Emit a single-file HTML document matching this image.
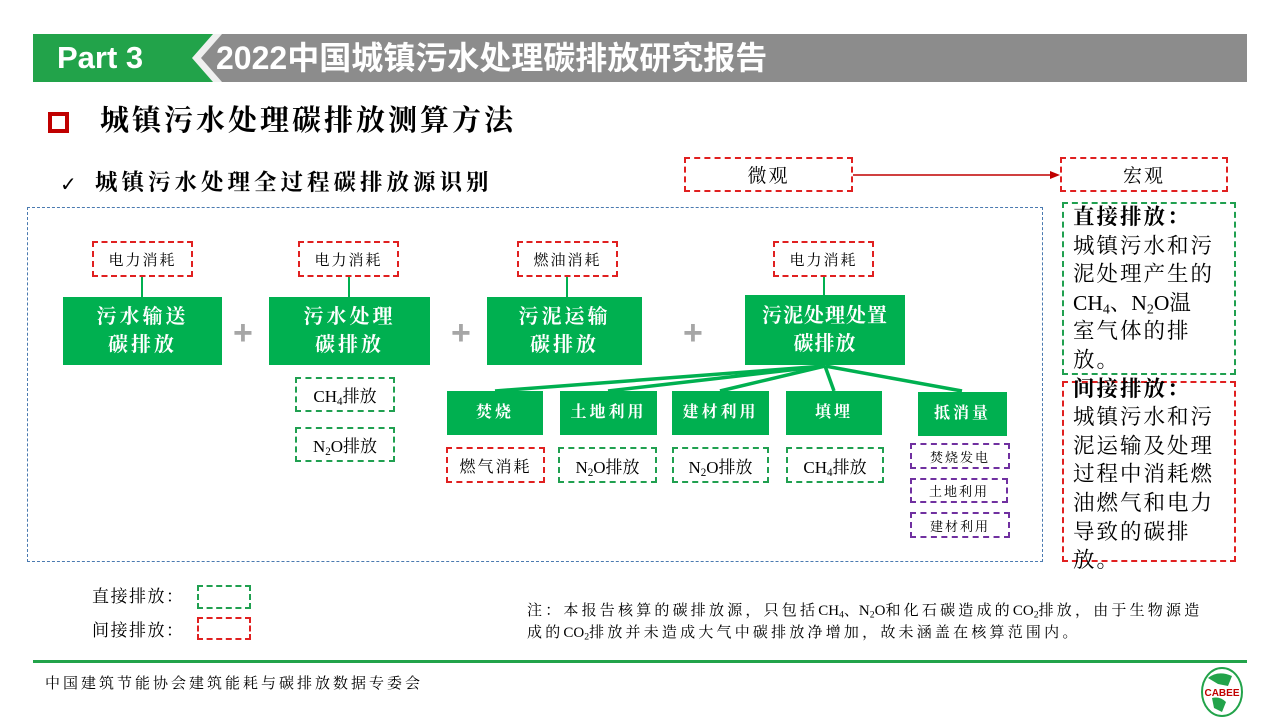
<!DOCTYPE html>
<html><head><meta charset="utf-8"><style>
*{margin:0;padding:0;box-sizing:border-box}
body{width:1280px;height:720px;background:#fff;position:relative;overflow:hidden;font-family:"Liberation Serif","Noto Serif CJK SC",serif;color:#000}
.a{position:absolute;white-space:nowrap}
.g{position:absolute;background:#00b050;color:#fff;display:flex;align-items:center;justify-content:center;text-align:center;font-weight:bold;font-size:20px;line-height:28px;letter-spacing:3px}
.d{position:absolute;display:flex;align-items:center;justify-content:center;font-size:15px;letter-spacing:2px;white-space:nowrap}
.r{border:2px dashed #e02020}
.gn{border:2px dashed #20a050}
.p{border:2px dashed #7030a0;font-size:13px}
.plus{position:absolute;color:#a6a6a6;font:bold 34px "Liberation Sans",sans-serif;line-height:34px}
.l{letter-spacing:0}
sub{font-size:0.65em;vertical-align:-0.25em;line-height:0;letter-spacing:0}
</style></head><body>
<div class="a" style="left:33px;top:34px;width:1214px;height:48px;background:#8c8c8c"></div>
<div class="a" style="left:33px;top:34px;width:185px;height:48px;background:#22a34a;clip-path:polygon(0 0,100% 0,88% 50%,100% 100%,0 100%)"></div>
<div class="a" style="left:192px;top:34px;width:30px;height:48px;background:#f0f0f0;clip-path:polygon(70% 0,100% 0,30% 50%,100% 100%,70% 100%,0 50%)"></div>
<div class="a" style="left:57px;top:38px;font:bold 31px 'Liberation Sans',sans-serif;color:#fff;line-height:40px">Part 3</div>
<div class="a" style="left:216px;top:38px;font:bold 32px 'Liberation Sans','Noto Sans CJK SC',sans-serif;color:#fff;line-height:40px;letter-spacing:0">2022中国城镇污水处理碳排放研究报告</div>

<div class="a" style="left:48px;top:112px;width:21px;height:21px;border:4px solid #c00000"></div>
<div class="a" style="left:100px;top:102px;font-size:29px;font-weight:bold;line-height:38px;letter-spacing:3px">城镇污水处理碳排放测算方法</div>
<div class="a" style="left:60px;top:170px;font:bold 20px 'DejaVu Sans',sans-serif;line-height:28px">✓</div>
<div class="a" style="left:95px;top:168px;font-size:22.5px;font-weight:bold;line-height:30px;letter-spacing:4px">城镇污水处理全过程碳排放源识别</div>

<div class="d r" style="left:684px;top:157px;width:169px;height:35px;font-size:19px">微观</div>
<div class="d r" style="left:1060px;top:157px;width:168px;height:35px;font-size:19px">宏观</div>
<svg class="a" style="left:0;top:0" width="1280" height="720">
<line x1="853" y1="175" x2="1052" y2="175" stroke="#c00000" stroke-width="1.5"/>
<polygon points="1060,175 1050,171 1050,179" fill="#c00000"/>
<g stroke="#00b050" stroke-width="2">
<line x1="142" y1="277" x2="142" y2="297"/><line x1="349" y1="277" x2="349" y2="297"/>
<line x1="567" y1="277" x2="567" y2="297"/><line x1="824" y1="277" x2="824" y2="295"/>
</g>
<g stroke="#00b050" stroke-width="3.5">
<line x1="825" y1="366" x2="495" y2="391"/><line x1="825" y1="366" x2="608" y2="391"/>
<line x1="825" y1="366" x2="720" y2="391"/><line x1="825" y1="366" x2="834" y2="391"/>
<line x1="825" y1="366" x2="962" y2="391"/>
</g>
</svg>
<div class="a" style="left:27px;top:207px;width:1016px;height:355px;border:1.5px dashed #4a7ab0"></div>

<div class="d r" style="left:92px;top:241px;width:101px;height:36px">电力消耗</div>
<div class="d r" style="left:298px;top:241px;width:101px;height:36px">电力消耗</div>
<div class="d r" style="left:517px;top:241px;width:101px;height:36px">燃油消耗</div>
<div class="d r" style="left:773px;top:241px;width:101px;height:36px">电力消耗</div>

<div class="g" style="left:63px;top:297px;width:159px;height:68px">污水输送<br>碳排放</div>
<div class="g" style="left:269px;top:297px;width:161px;height:68px">污水处理<br>碳排放</div>
<div class="g" style="left:487px;top:297px;width:155px;height:68px">污泥运输<br>碳排放</div>
<div class="g" style="left:745px;top:295px;width:160px;height:70px;letter-spacing:1px">污泥处理处置<br>碳排放</div>
<div class="plus" style="left:233px;top:316px">+</div>
<div class="plus" style="left:451px;top:316px">+</div>
<div class="plus" style="left:683px;top:316px">+</div>

<div class="d gn" style="left:295px;top:377px;width:100px;height:35px;font-size:17px;letter-spacing:0"><span>CH<sub>4</sub>排放</span></div>
<div class="d gn" style="left:295px;top:427px;width:100px;height:35px;font-size:17px;letter-spacing:0"><span>N<sub>2</sub>O排放</span></div>

<div class="g" style="left:447px;top:391px;width:96px;height:44px;font-size:16px;letter-spacing:3px">焚烧</div>
<div class="g" style="left:560px;top:391px;width:97px;height:44px;font-size:16px;letter-spacing:3px">土地利用</div>
<div class="g" style="left:672px;top:391px;width:97px;height:44px;font-size:16px;letter-spacing:3px">建材利用</div>
<div class="g" style="left:786px;top:391px;width:96px;height:44px;font-size:16px;letter-spacing:3px">填埋</div>
<div class="g" style="left:918px;top:392px;width:89px;height:44px;font-size:16px;letter-spacing:3px">抵消量</div>

<div class="d r" style="left:446px;top:447px;width:99px;height:36px;font-size:16px">燃气消耗</div>
<div class="d gn" style="left:558px;top:447px;width:99px;height:36px;font-size:17px;letter-spacing:0"><span>N<sub>2</sub>O排放</span></div>
<div class="d gn" style="left:672px;top:447px;width:97px;height:36px;font-size:17px;letter-spacing:0"><span>N<sub>2</sub>O排放</span></div>
<div class="d gn" style="left:786px;top:447px;width:98px;height:36px;font-size:17px;letter-spacing:0"><span>CH<sub>4</sub>排放</span></div>
<div class="d p" style="left:910px;top:443px;width:100px;height:26px">焚烧发电</div>
<div class="d p" style="left:910px;top:478px;width:98px;height:25px">土地利用</div>
<div class="d p" style="left:910px;top:512px;width:100px;height:26px">建材利用</div>

<div class="a gn" style="left:1062px;top:202px;width:174px;height:173px"></div>
<div class="a r" style="left:1062px;top:381px;width:174px;height:181px"></div>
<div class="a" style="left:1073px;top:203px;font-size:21.5px;line-height:28.6px;width:170px;letter-spacing:2px">
<b>直接排放：</b><br>城镇污水和污<br>泥处理产生的<br><span class="l">CH<sub>4</sub>、N<sub>2</sub>O</span>温<br>室气体的排<br>放。<br><b>间接排放：</b><br>城镇污水和污<br>泥运输及处理<br>过程中消耗燃<br>油燃气和电力<br>导致的碳排<br>放。</div>

<div class="a" style="left:92px;top:585px;font-size:17px;line-height:24px;letter-spacing:1.5px">直接排放：</div>
<div class="a gn" style="left:197px;top:585px;width:54px;height:24px"></div>
<div class="a" style="left:92px;top:619px;font-size:17px;line-height:24px;letter-spacing:1.5px">间接排放：</div>
<div class="a r" style="left:197px;top:617px;width:54px;height:23px"></div>
<div class="a" style="left:527px;top:600px;font-size:15px;line-height:22px;width:720px;letter-spacing:3.2px">注：本报告核算的碳排放源，只包括<span class="l">CH<sub>4</sub>、N<sub>2</sub>O</span>和化石碳造成的<span class="l">CO<sub>2</sub></span>排放，由于生物源造<br>成的<span class="l">CO<sub>2</sub></span>排放并未造成大气中碳排放净增加，故未涵盖在核算范围内。</div>

<div class="a" style="left:33px;top:660px;width:1214px;height:3px;background:#22a34a"></div>
<div class="a" style="left:45px;top:673px;font-size:15px;line-height:22px;letter-spacing:3px">中国建筑节能协会建筑能耗与碳排放数据专委会</div>
<svg class="a" style="left:1198px;top:666px" width="48" height="52">
<ellipse cx="24" cy="26" rx="20" ry="24" fill="#fff" stroke="#22a34a" stroke-width="2"/>
<path d="M10,12 Q20,4 34,10 L30,20 L20,18 Z M14,32 Q22,30 28,36 L24,46 L16,42 Z" fill="#22a34a"/>
<text x="24" y="30" font-family="Liberation Sans" font-weight="bold" font-size="10" fill="#c00000" text-anchor="middle">CABEE</text>
</svg>
</body></html>
